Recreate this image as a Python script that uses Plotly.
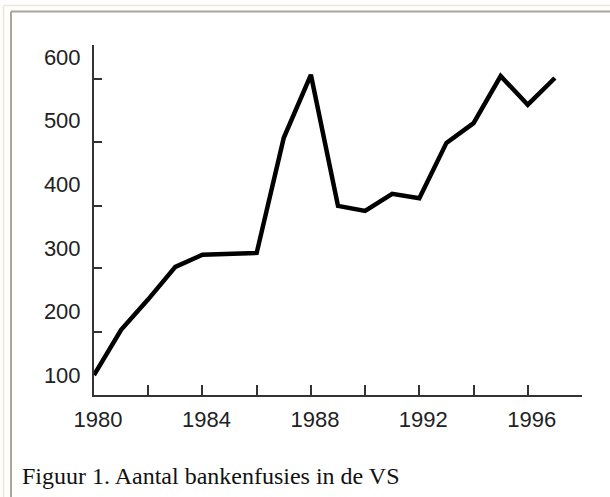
import plotly.graph_objects as go

W, H = 610, 497

years = list(range(1980, 1998))
mergers = [100, 171, 219, 270, 289, 290, 292, 473, 572, 366, 358, 385, 378, 465, 496, 570, 525, 567]

y_label_vals = [100, 200, 300, 400, 500, 600]
y_mark_vals = [168, 268, 366, 466, 566]
x_label_vals = [1980, 1984, 1988, 1992, 1996]
x_mark_vals = [1982, 1986, 1990, 1994]
caption = "Figuur 1. Aantal bankenfusies in de VS"


def px(x):
    return x / W


def py(y):
    return 1 - y / H


fig = go.Figure()
fig.add_trace(go.Scatter(
    x=years, y=mergers, mode="lines",
    line=dict(color="black", width=4.5),
    hoverinfo="skip", showlegend=False,
))

axis_font = dict(family="Liberation Sans, Arial, sans-serif", size=22, color="#222")

fig.update_layout(
    width=W, height=H,
    margin=dict(l=0, r=0, t=0, b=0, pad=0, autoexpand=False),
    paper_bgcolor="white", plot_bgcolor="white",
    showlegend=False,
    xaxis=dict(
        domain=[px(94), px(582)],
        range=[1980, 1998],
        automargin=False,
        showgrid=False, zeroline=False,
        showline=True, linecolor="#333", linewidth=2,
        tickmode="array", tickvals=x_label_vals,
        ticks="inside", ticklen=10, tickwidth=2, tickcolor="#333",
        tickfont=axis_font,
        ticklabelstandoff=4, ticklabelshift=4,
        minor=dict(tickmode="array", tickvals=x_mark_vals, ticks="inside",
                   ticklen=10, tickwidth=2, tickcolor="#333", showgrid=False),
        fixedrange=True,
    ),
    yaxis=dict(
        domain=[py(395), py(45)],
        range=[68.6, 618.9],
        automargin=False,
        showgrid=False, zeroline=False,
        showline=True, linecolor="#333", linewidth=2,
        tickmode="array", tickvals=y_label_vals,
        ticks="", tickfont=axis_font,
        ticklabelstandoff=7,
        minor=dict(tickmode="array", tickvals=y_mark_vals, ticks="inside",
                   ticklen=8, tickwidth=2, tickcolor="#333", showgrid=False),
        fixedrange=True,
    ),
    shapes=[
        dict(type="line", xref="paper", yref="paper", x0=px(3.5), x1=1, y0=py(5.5), y1=py(5.5),
             line=dict(color="#ece6d2", width=1.5)),
        dict(type="line", xref="paper", yref="paper", x0=px(3.5), x1=px(3.5), y0=py(5.5), y1=0,
             line=dict(color="#ece6d2", width=1.5)),
        dict(type="line", xref="paper", yref="paper", x0=px(11), x1=1, y0=py(11.5), y1=py(11.5),
             line=dict(color="#a8a696", width=2)),
        dict(type="line", xref="paper", yref="paper", x0=px(11), x1=px(11), y0=py(11.5), y1=0,
             line=dict(color="#a8a696", width=2)),
    ],
    annotations=[
        dict(text=caption, xref="paper", yref="paper", x=px(20), y=py(476),
             xanchor="left", yanchor="middle", showarrow=False,
             font=dict(family="Liberation Serif, Times New Roman, serif", size=24, color="#111")),
    ],
)

fig.write_html("out.html", config={"displayModeBar": False},
               post_script="document.body.style.margin='0';document.body.style.overflow='hidden';")
